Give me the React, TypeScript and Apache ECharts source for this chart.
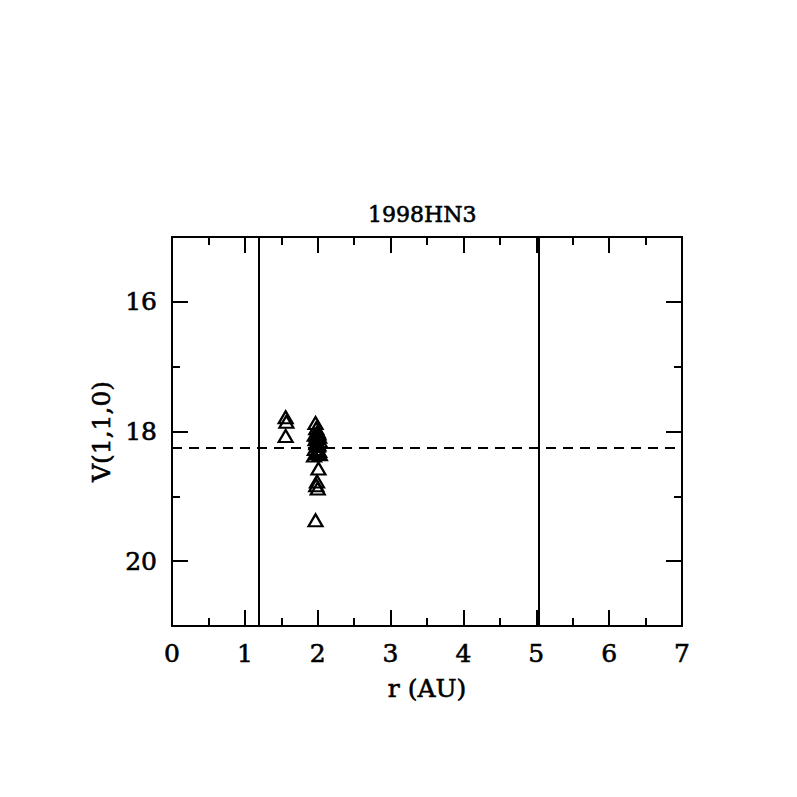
import React, { useEffect, useRef } from "react";
import * as echarts from "echarts";

const title = "1998HN3";
const xName = "r (AU)";
const yName = "V(1,1,0)";

const rValues = [
  1.56, 1.57, 1.56,
  1.97, 1.98, 2.0, 2.01, 1.96, 2.02, 1.99, 1.97, 2.03, 1.98, 2.0, 1.96, 2.02,
  1.99, 1.95, 2.03, 2.01, 1.99, 1.98, 2.0, 1.97, 1.99, 2.01,
];
const vValues = [
  17.78, 17.85, 18.07,
  17.87, 17.95, 18.0, 18.03, 18.05, 18.08, 18.1, 18.12, 18.15, 18.18, 18.22, 18.27, 18.3,
  18.33, 18.37, 18.35, 18.57, 18.77, 18.83, 18.88, 19.37, 18.06, 18.2,
];

const verticalLines = [1.19, 5.03];
const horizontalLine = 18.25;

const xMin = 0;
const xMax = 7;
const yMin = 15;
const yMax = 21;
const yMajorTicks = [16, 18, 20];
const yMinorTicks = [17, 19];

const FONT = "DejaVu Serif";

export default function App() {
  const ref = useRef<HTMLDivElement>(null);
  useEffect(() => {
    if (!ref.current) return;
    const chart = echarts.init(ref.current, null, { renderer: "svg" });
    const axisLine = { show: true, lineStyle: { color: "#000", width: 2 } };
    const label = {
      color: "#000",
      fontFamily: FONT,
      fontSize: 25,
      fontWeight: "normal",
      textBorderColor: "#000",
      textBorderWidth: 0.6,
    };
    const xCommon = {
      type: "value",
      min: xMin,
      max: xMax,
      interval: 1,
      axisLine,
      splitLine: { show: false },
      axisTick: { show: true, inside: true, length: 16, lineStyle: { color: "#000", width: 2 } },
      minorTick: { show: true, splitNumber: 2, length: 8, lineStyle: { color: "#000", width: 2 } },
      minorSplitLine: { show: false },
    };
    const yCommon = (pos: string, ticks: number[], len: number, showLabel: boolean, name?: string) => ({
      type: "value",
      inverse: true,
      min: yMin,
      max: yMax,
      position: pos,
      axisLine,
      splitLine: { show: false },
      axisTick: {
        show: true,
        inside: true,
        length: len,
        customValues: ticks,
        lineStyle: { color: "#000", width: 2 },
      },
      axisLabel: showLabel
        ? { ...label, margin: 15, customValues: ticks }
        : { show: false },
      name: name,
      nameLocation: "middle",
      nameGap: 58,
      nameTextStyle: { ...label },
    });
    chart.setOption({
      animation: false,
      backgroundColor: "#fff",
      title: {
        text: title,
        left: 363,
        top: 198,
        textStyle: {
          color: "#000",
          fontFamily: FONT,
          fontSize: 22,
          fontWeight: "normal",
          textBorderColor: "#000",
          textBorderWidth: 0.6,
        },
      },
      grid: { left: 172, right: 115, top: 237, bottom: 171 },
      xAxis: [
        {
          ...xCommon,
          position: "bottom",
          axisLabel: { ...label, margin: 15 },
          name: xName,
          nameLocation: "middle",
          nameGap: 50,
          nameTextStyle: { ...label },
        },
        { ...xCommon, position: "top", axisLabel: { show: false } },
      ],
      yAxis: [
        yCommon("left", yMajorTicks, 16, true, yName),
        yCommon("left", yMinorTicks, 8, false),
        yCommon("right", yMajorTicks, 16, false),
        yCommon("right", yMinorTicks, 8, false),
      ],
      series: [
        {
          type: "scatter",
          xAxisIndex: 0,
          yAxisIndex: 0,
          data: rValues.map((r, i) => [r, vValues[i]]),
          symbol: "triangle",
          symbolSize: [14, 12],
          itemStyle: { color: "transparent", borderColor: "#000", borderWidth: 2.2, opacity: 1 },
          markLine: {
            silent: true,
            symbol: "none",
            label: { show: false },
            data: [
              ...verticalLines.map((v) => ({
                xAxis: v,
                lineStyle: { color: "#000", width: 2, type: "solid" },
              })),
              {
                yAxis: horizontalLine,
                lineStyle: { color: "#000", width: 2, type: [10, 7] },
              },
            ],
          },
        },
      ],
    });
    return () => chart.dispose();
  }, []);
  return (
    <div
      ref={ref}
      style={{ position: "fixed", left: 0, top: 0, width: 797, height: 797 }}
    />
  );
}
